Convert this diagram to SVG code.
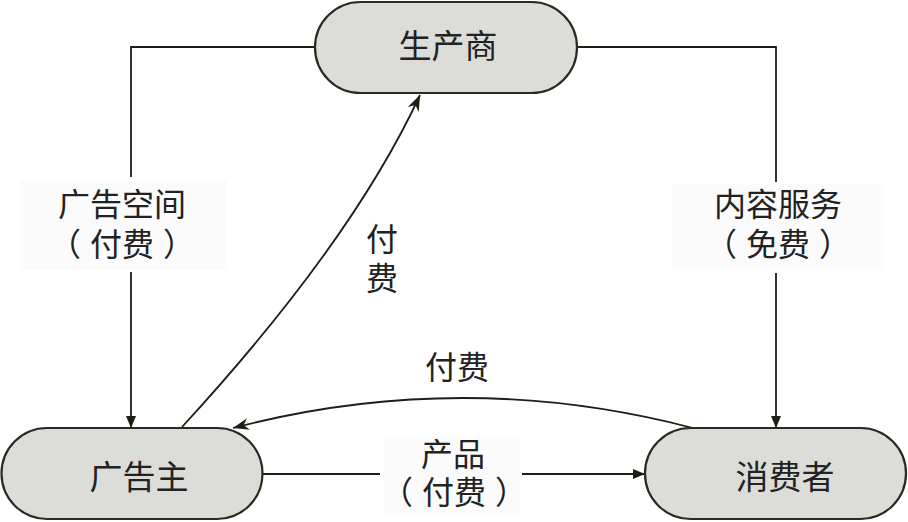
<svg xmlns="http://www.w3.org/2000/svg" width="908" height="522" viewBox="0 0 908 522">
<defs>
<marker id="tri" viewBox="0 0 12 10" refX="12" refY="5" markerWidth="12" markerHeight="10" markerUnits="userSpaceOnUse" orient="auto">
<path d="M0,0 L12,5 L0,10 Z" fill="#1e1e14"/>
</marker>
<marker id="barb" viewBox="0 0 16 12" refX="16" refY="6" markerWidth="16" markerHeight="12" markerUnits="userSpaceOnUse" orient="auto">
<path d="M0,0 L16,6 L0,12 L5,6 Z" fill="#1e1e14"/>
</marker>
</defs>
<style>
.node{fill:#dcdcd8;stroke:#2a2a22;stroke-width:2.2}
.lbl{font-family:"Liberation Serif","Noto Sans CJK SC",serif;font-size:32px;fill:#222;text-anchor:middle;dominant-baseline:central}
.nl{font-size:33px}
.edge{fill:none;stroke:#1e1e14;stroke-width:1.8}
.bg{fill:#fbfbfb}
</style>
<rect width="908" height="522" fill="#ffffff"/>
<g id="connectors">
<path class="edge" d="M315,47 H131 V177"/>
<path class="edge" d="M131,272 V428" marker-end="url(#tri)"/>
<path class="edge" d="M577,47 H776 V182"/>
<path class="edge" d="M776,273 V428" marker-end="url(#tri)"/>
<path class="edge" d="M182,427 Q352,242 420,95" marker-end="url(#barb)"/>
<path class="edge" d="M693,428 Q463,368 233,428" marker-end="url(#barb)"/>
<path class="edge" d="M262,474 H380"/>
<path class="edge" d="M522,474 H645" marker-end="url(#tri)"/>
<rect class="bg" x="20" y="180" width="207" height="90"/>
<text class="lbl" x="122" y="205">广告空间</text>
<text class="lbl" x="122" y="245">（<tspan dx="9">付费</tspan><tspan dx="9">）</tspan></text>
<rect class="bg" x="672" y="184" width="212" height="87"/>
<text class="lbl" x="778" y="205">内容服务</text>
<text class="lbl" x="778" y="245">（<tspan dx="9">免费</tspan><tspan dx="9">）</tspan></text>
<text class="lbl" x="382" y="240">付</text>
<text class="lbl" x="382" y="279">费</text>
<text class="lbl" x="457" y="368">付费</text>
<rect class="bg" x="384" y="436" width="136" height="80"/>
<text class="lbl" x="453" y="455">产品</text>
<text class="lbl" x="454" y="493">（<tspan dx="9">付费</tspan><tspan dx="9">）</tspan></text>
</g>
<g id="producer">
<rect class="node" x="315" y="2" width="262" height="91" rx="45.5"/>
<text class="lbl nl" x="448" y="47">生产商</text>
</g>
<g id="advertiser">
<rect class="node" x="1.5" y="428" width="261" height="91" rx="45.5"/>
<text class="lbl nl" x="139" y="478">广告主</text>
</g>
<g id="consumer">
<rect class="node" x="645" y="428" width="261" height="91" rx="45.5"/>
<text class="lbl nl" x="785" y="478">消费者</text>
</g>
</svg>
